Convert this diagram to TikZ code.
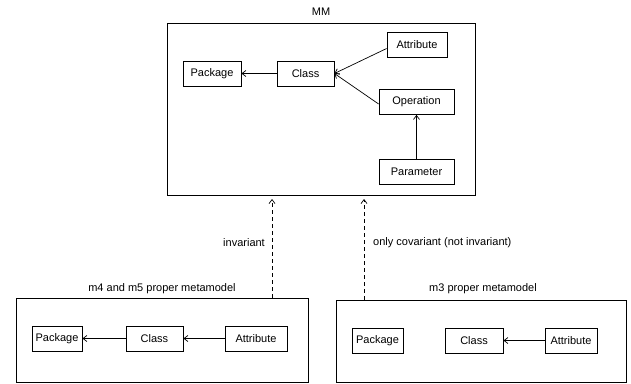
\documentclass[tikz,border=0pt]{standalone}
\usepackage{fontspec}
\setmainfont{Liberation Sans}
\usetikzlibrary{arrows.meta}
\begin{document}
\begin{tikzpicture}[x=1pt,y=-1pt,
  font=\fontsize{11}{13}\selectfont,
  cls/.style={draw,line width=0.8pt,inner sep=0pt,minimum height=25pt},
  frame/.style={draw,line width=0.8pt,inner sep=0pt},
  lbl/.style={inner sep=0pt},
  assoc/.style={line width=0.7pt,-{Straight Barb[length=4pt,width=6pt]}},
  dep/.style={line width=0.7pt,dashed,dash pattern=on 4pt off 3pt,-{Straight Barb[length=4pt,width=6pt]}}]
\useasboundingbox (0,0) rectangle (631,383);
% top metamodel
\node[frame,minimum width=308pt,minimum height=172pt] (mm) at (321,109) {};
\node[lbl] (mmlbl) at (321,12) {MM};
\node[cls,minimum width=58pt] (pk) at (212,73.5) {Package};
\node[cls,minimum width=57pt] (cl) at (305.5,73.5) {Class};
\node[cls,minimum width=60pt] (at) at (417,44.5) {Attribute};
\node[cls,minimum width=75pt] (op) at (416.5,102) {Operation};
\node[cls,minimum width=75pt] (pa) at (416.5,171.5) {Parameter};
\draw[assoc] (cl) -- (pk);
\draw[assoc] (at.west) ++(0,4) -- (cl.east);
\draw[assoc] (op.west) ++(0,2) -- (cl.east);
\draw[assoc] (pa) -- (op);
% bottom left
\node[frame,minimum width=292pt,minimum height=84pt] (bl) at (162,340) {};
\node[lbl] (bllbl) at (162,289) {m4 and m5 proper metamodel};
\node[cls,minimum width=50pt] (pk1) at (57,338.5) {Package};
\node[cls,minimum width=57pt] (cl1) at (154.5,338.5) {Class};
\node[cls,minimum width=62pt] (at1) at (256,338.5) {Attribute};
\draw[assoc] (cl1) -- (pk1);
\draw[assoc] (at1) -- (cl1);
% bottom right
\node[frame,minimum width=290pt,minimum height=82pt] (br) at (481,341) {};
\node[lbl] (brlbl) at (483,289) {m3 proper metamodel};
\node[cls,minimum width=51pt] (pk2) at (377.5,340.5) {Package};
\node[cls,minimum width=58pt] (cl2) at (474,340.5) {Class};
\node[cls,minimum width=52pt] (at2) at (571,340.5) {Attribute};
\draw[assoc] (at2) -- (cl2);
% dependencies
\coordinate (d1s) at (bl.north -| 272,0);
\coordinate (d1e) at (272,199);
\coordinate (d2s) at (br.north -| 364,0);
\coordinate (d2e) at (364,199);
\draw[dep] (d1s) -- (d1e);
\draw[dep] (d2s) -- (d2e);
\node[lbl,anchor=east] (inv) at (265,243) {invariant};
\node[lbl,anchor=west] (cov) at (373,243) {only covariant (not invariant)};
\end{tikzpicture}
\end{document}
